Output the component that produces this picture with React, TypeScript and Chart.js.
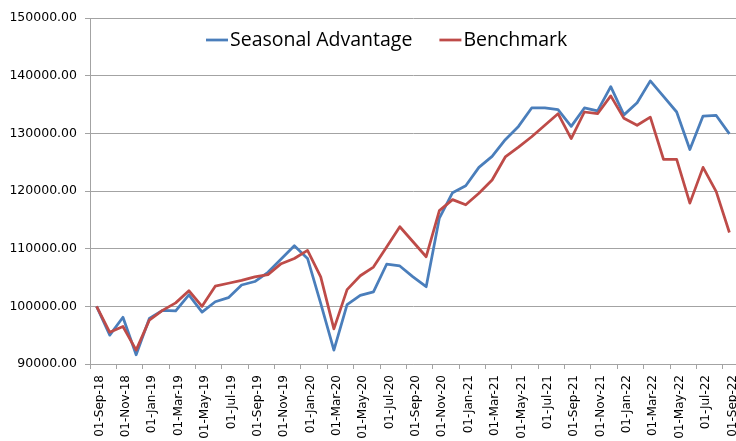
import React, { useEffect, useRef } from 'react';
import { Chart, registerables } from 'chart.js';

Chart.register(...registerables);

const dateLabels = [
  '01-Sep-18', '01-Oct-18', '01-Nov-18', '01-Dec-18', '01-Jan-19', '01-Feb-19', '01-Mar-19',
  '01-Apr-19', '01-May-19', '01-Jun-19', '01-Jul-19', '01-Aug-19', '01-Sep-19', '01-Oct-19',
  '01-Nov-19', '01-Dec-19', '01-Jan-20', '01-Feb-20', '01-Mar-20', '01-Apr-20', '01-May-20',
  '01-Jun-20', '01-Jul-20', '01-Aug-20', '01-Sep-20', '01-Oct-20', '01-Nov-20', '01-Dec-20',
  '01-Jan-21', '01-Feb-21', '01-Mar-21', '01-Apr-21', '01-May-21', '01-Jun-21', '01-Jul-21',
  '01-Aug-21', '01-Sep-21', '01-Oct-21', '01-Nov-21', '01-Dec-21', '01-Jan-22', '01-Feb-22',
  '01-Mar-22', '01-Apr-22', '01-May-22', '01-Jun-22', '01-Jul-22', '01-Aug-22', '01-Sep-22',
];

const seasonalAdvantage = [
  100000, 95000, 98100, 91600, 97900, 99300, 99200, 102000, 99000, 100800, 101500, 103700,
  104300, 105900, 108200, 110500, 108300, 100500, 92400, 100300, 101900, 102500, 107300,
  107000, 105100, 103400, 115300, 119700, 120900, 124100, 126000, 128900, 131200, 134400,
  134400, 134100, 131200, 134400, 133900, 138100, 133200, 135300, 139100, 136400, 133700,
  127200, 133000, 133100, 129900,
];

const benchmark = [
  100000, 95500, 96500, 92400, 97600, 99300, 100600, 102700, 100000, 103500, 104000, 104500,
  105100, 105500, 107400, 108300, 109700, 105100, 96100, 102900, 105300, 106800, 110300,
  113800, 111200, 108600, 116600, 118500, 117600, 119600, 121900, 125900, 127600, 129400,
  131400, 133400, 129100, 133700, 133400, 136500, 132600, 131400, 132800, 125500, 125500,
  117900, 124100, 119900, 112800,
];

const seriesNames = ['Seasonal Advantage', 'Benchmark'];
const seriesColors = ['#4a7ebb', '#be4b48'];
const yMin = 90000;
const yMax = 150000;
const yStep = 10000;

export default function App() {
  const canvasRef = useRef<HTMLCanvasElement>(null);

  useEffect(() => {
    if (!canvasRef.current) return;
    const gridColor = '#a3a3a3';

    const insideLegend = {
      id: 'insideLegend',
      afterDraw(chart: any) {
        const ctx = chart.ctx;
        const area = chart.chartArea;
        ctx.save();
        ctx.font = '19.5px "Open Sans"';
        ctx.textBaseline = 'middle';
        ctx.textAlign = 'left';
        let x = area.left + 116;
        const y = area.top + 22;
        chart.data.datasets.forEach((ds: any) => {
          ctx.strokeStyle = ds.borderColor;
          ctx.lineWidth = 2.75;
          ctx.beginPath();
          ctx.moveTo(x, y);
          ctx.lineTo(x + 22, y);
          ctx.stroke();
          ctx.fillStyle = '#000';
          ctx.fillText(ds.label, x + 24, y);
          x += 24 + ctx.measureText(ds.label).width + 27;
        });
        ctx.restore();
      },
    };

    const chart = new Chart(canvasRef.current, {
      type: 'line',
      data: {
        labels: dateLabels,
        datasets: [
          {
            label: seriesNames[0],
            data: seasonalAdvantage,
            borderColor: seriesColors[0],
            backgroundColor: seriesColors[0],
            borderWidth: 2.75,
            pointRadius: 0,
            tension: 0,
            borderJoinStyle: 'round',
            order: 1,
          },
          {
            label: seriesNames[1],
            data: benchmark,
            borderColor: seriesColors[1],
            backgroundColor: seriesColors[1],
            borderWidth: 2.75,
            pointRadius: 0,
            tension: 0,
            borderJoinStyle: 'round',
            order: 0,
          },
        ],
      },
      options: {
        responsive: false,
        animation: false,
        layout: { padding: { top: 18, left: 0, right: 0, bottom: 0 } },
        plugins: {
          legend: { display: false },
          tooltip: { enabled: false },
        },
        scales: {
          x: {
            type: 'category',
            offset: true,
            grid: {
              offset: true,
              drawOnChartArea: false,
              drawTicks: true,
              tickLength: 5,
              color: (c: any) => (c.index % 2 === 0 ? gridColor : 'rgba(0,0,0,0)'),
            },
            border: { color: gridColor },
            ticks: {
              autoSkip: false,
              maxRotation: 90,
              minRotation: 90,
              padding: 6,
              labelOffset: 3,
              color: '#000',
              font: { family: 'DejaVu Sans', size: 12 },
              callback: (_v: any, i: number) => (i % 2 === 0 ? dateLabels[i] : ''),
            },
            afterFit: (scale: any) => {
              scale.height = 77;
              scale.paddingLeft = 0;
              scale.paddingRight = 0;
            },
          },
          y: {
            min: yMin,
            max: yMax,
            grid: { color: gridColor, tickLength: 5, lineWidth: 1 },
            border: { color: gridColor },
            ticks: {
              stepSize: yStep,
              padding: 8,
              color: '#000',
              font: { family: 'DejaVu Sans', size: 12.5 },
              callback: (v: any) => Number(v).toFixed(2),
            },
            afterFit: (scale: any) => {
              scale.width = 90;
              scale.paddingTop = 0;
              scale.paddingBottom = 0;
            },
          },
        },
      },
      plugins: [insideLegend],
    });

    return () => chart.destroy();
  }, []);

  return (
    <div style={{ position: 'fixed', left: 0, top: 0, width: 736, height: 441, background: '#fff', overflow: 'hidden' }}>
      <canvas ref={canvasRef} width={736} height={441} style={{ display: 'block' }} />
    </div>
  );
}
